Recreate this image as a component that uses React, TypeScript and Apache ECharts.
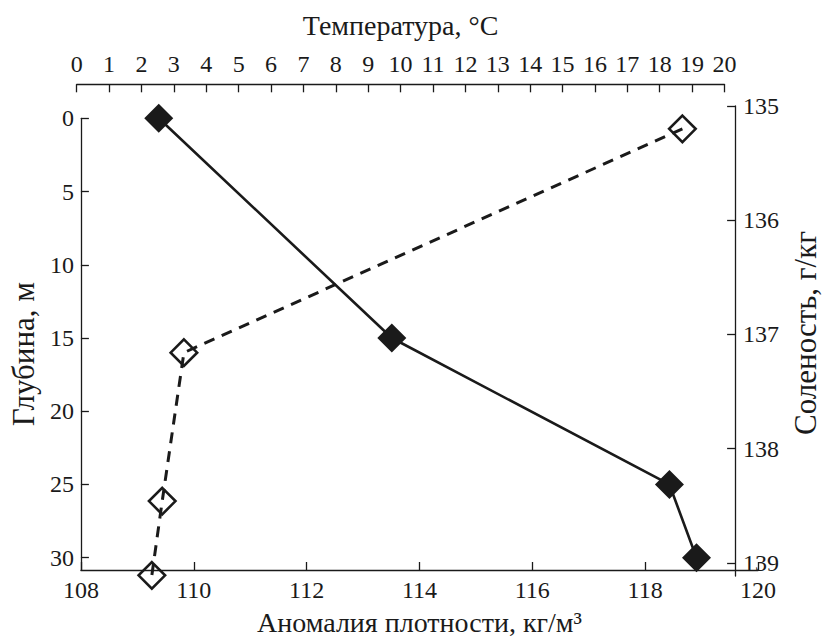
import React, { useEffect, useRef } from "react";
import * as echarts from "echarts";

// Solid line, filled diamonds: density anomaly (bottom axis) vs depth (left axis)
const depth = [0, 15, 25, 30];
const densityAnomaly = [109.38, 113.51, 118.43, 118.91];

// Dashed line, open diamonds: temperature (top axis) vs salinity (right axis)
const temperature = [18.7, 3.31, 2.64, 2.32];
const salinity = [135.2, 137.16, 138.46, 139.11];

const FONT = "Liberation Serif, serif";
const INK = "#1a1a1a";

const isMultiple = (v: number, step: number) => Math.abs(v / step - Math.round(v / step)) < 1e-6;

function axisBase(nameSize: number, padding: number[]) {
  return {
    type: "value" as const,
    nameLocation: "middle" as const,
    axisLine: { show: true, onZero: false, lineStyle: { color: INK, width: 1.3 } },
    axisTick: { show: true, inside: true, length: 8, lineStyle: { color: INK, width: 1.3 } },
    splitLine: { show: false },
    nameTextStyle: { color: INK, fontFamily: FONT, fontSize: nameSize, padding },
  };
}

function label(step: number, margin: number) {
  return {
    color: INK,
    fontFamily: FONT,
    fontSize: 24,
    margin,
    interval: 0,
    showMaxLabel: false,
    formatter: (v: number) => (isMultiple(v, step) ? String(Math.round(v)) : ""),
  };
}

export default function App() {
  const ref = useRef<HTMLDivElement>(null);

  useEffect(() => {
    if (!ref.current) return;
    const chart = echarts.init(ref.current, null, { renderer: "svg" });
    chart.setOption({
      animation: false,
      backgroundColor: "#ffffff",
      textStyle: { fontFamily: FONT },
      grid: [
        { left: 78, top: 118.3, width: 680, height: 457.4 },
        { left: 76.7, top: 106, width: 670, height: 470 },
      ],
      xAxis: [
        {
          ...axisBase(28, [0, 0, 0, 0]),
          gridIndex: 0,
          position: "bottom",
          min: 108,
          max: 120,
          interval: 2,
          name: "Аномалия плотности, кг/м³",
          nameGap: 38,
          axisLabel: { ...label(2, 8), showMaxLabel: true },
        },
        {
          ...axisBase(28, [0, 0, 0, 0]),
          gridIndex: 1,
          position: "top",
          offset: 21.7,
          min: 0,
          max: 20,
          interval: 1,
          name: "Температура, °C",
          nameGap: 45,
          axisLabel: { ...label(1, 8), showMaxLabel: true },
        },
      ],
      yAxis: [
        {
          ...axisBase(31, [0, 20, 0, 0]),
          gridIndex: 0,
          position: "left",
          inverse: true,
          min: 0,
          max: 30.84,
          interval: 5,
          name: "Глубина, м",
          nameGap: 41,
          nameRotate: 90,
          axisLabel: label(5, 7),
        },
        {
          ...axisBase(31, [0, 0, 0, 16]),
          gridIndex: 1,
          position: "right",
          offset: 10.6,
          inverse: true,
          min: 135,
          max: 139.116,
          interval: 1,
          name: "Соленость, г/кг",
          nameGap: 38,
          nameRotate: 90,
          axisLabel: label(1, 8),
        },
      ],
      series: [
        {
          type: "line",
          xAxisIndex: 0,
          yAxisIndex: 0,
          data: depth.map((d, i) => [densityAnomaly[i], d]),
          symbol: "diamond",
          symbolSize: 29,
          clip: false,
          lineStyle: { color: INK, width: 2.6 },
          itemStyle: { color: INK },
        },
        {
          type: "line",
          xAxisIndex: 1,
          yAxisIndex: 1,
          data: salinity.map((s, i) => [temperature[i], s]),
          symbol: "diamond",
          symbolSize: 26.5,
          clip: false,
          lineStyle: { color: INK, width: 3, type: [11, 8] },
          itemStyle: { color: "rgba(0,0,0,0)", borderColor: INK, borderWidth: 2.6 },
        },
      ],
    });
    return () => chart.dispose();
  }, []);

  return (
    <div
      ref={ref}
      style={{ position: "fixed", left: 0, top: 0, width: 829, height: 641, background: "#fff" }}
    />
  );
}
